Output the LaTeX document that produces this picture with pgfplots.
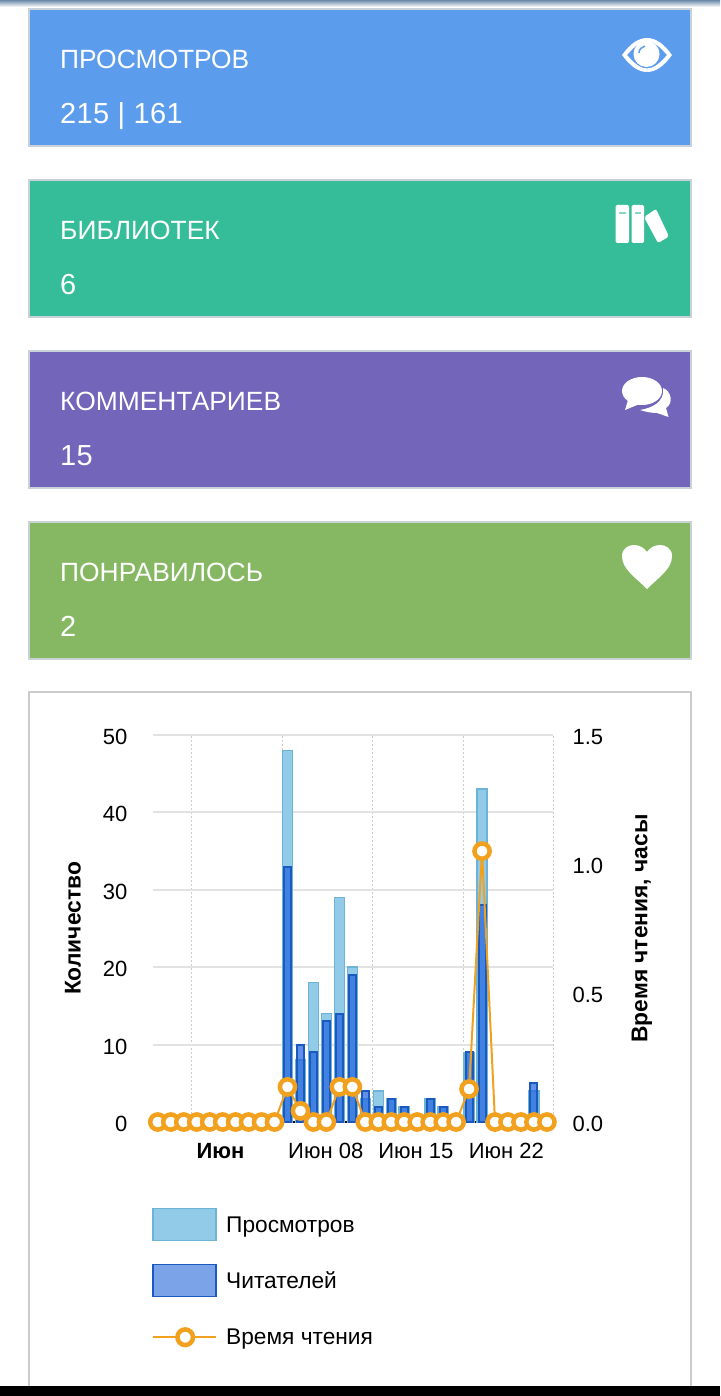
\documentclass[border=0pt]{standalone}
\usepackage{pgfplots}
\pgfplotsset{compat=1.18}
\usepackage{fontspec}
\setmainfont{Liberation Sans}
\definecolor{c1}{HTML}{5C9CED}
\definecolor{c2}{HTML}{35BC98}
\definecolor{c3}{HTML}{7265BA}
\definecolor{c4}{HTML}{86B863}
\definecolor{cb}{HTML}{C8D2D8}
\definecolor{pb}{HTML}{CCCCCC}
\definecolor{vf}{HTML}{92CBE8}
\definecolor{vd}{HTML}{6DB3D8}
\definecolor{rf}{HTML}{7BA3E8}
\definecolor{rb}{HTML}{1F62E0}
\definecolor{rd}{HTML}{1A59BE}
\definecolor{tl}{HTML}{F2A11F}
\definecolor{gr}{HTML}{E2E2E2}
\definecolor{st}{HTML}{6A89A8}
\pgfplotstableread{
i v r t
0 0 0 0
1 0 0 0
2 0 0 0
3 0 0 0
4 0 0 0
5 0 0 0
6 0 0 0
7 0 0 0
8 0 0 0
9 0 0 0
10 48 33 0.136
11 8 10 0.043
12 18 9 0
13 14 13 0
14 29 14 0.136
15 20 19 0.136
16 3 4 0
17 4 2 0
18 3 3 0
19 2 2 0
20 0 0 0
21 3 3 0
22 2 2 0
23 0 0 0
24 9 9 0.128
25 43 28 1.05
26 0 0 0
27 0 0 0
28 0 0 0
29 4 5 0
30 0 0 0
}\data
\newcommand{\card}[4]{%
  \fill[#1,draw=cb,line width=2pt] (29pt,-#2 pt) rectangle (691pt,-#2 pt-137.5pt);
  \node[anchor=base west,text=white,font=\fontsize{26.4}{26.4}\selectfont,inner sep=0pt] at (60pt,-#2 pt-59.8pt) {#3};
  \node[anchor=base west,text=white,font=\fontsize{29}{29}\selectfont,inner sep=0pt] at (60pt,-#2 pt-114.4pt) {\addfontfeature{LetterSpace=1.2}#4};
}
\begin{document}
\begin{tikzpicture}
\useasboundingbox (0,0) rectangle (720pt,-1396pt);
\fill[white] (0,0) rectangle (720pt,-1396pt);
\fill[top color=st,bottom color=white] (0,0) rectangle (720pt,-7pt);
\card{c1}{8.9}{ПРОСМОТРОВ}{215 | 161}
\card{c2}{179.9}{БИБЛИОТЕК}{6}
\card{c3}{350.9}{КОММЕНТАРИЕВ}{15}
\card{c4}{521.9}{ПОНРАВИЛОСЬ}{2}
% panel
\draw[pb,line width=2pt] (29pt,-1396pt) -- (29pt,-692pt) -- (691pt,-692pt) -- (691pt,-1396pt);
\fill[black] (0,-1386pt) rectangle (720pt,-1396pt);
% icons
\begin{scope}[x=1pt,y=-1pt,white]
 % eye
 \fill[even odd rule] (622,55) .. controls (630,44) and (638,38) .. (647,38) .. controls (656,38) and (664,44) .. (672,55) .. controls (664,66) and (656,72) .. (647,72) .. controls (638,72) and (630,66) .. (622,55) --
   (627,55) .. controls (634,63) and (640,68.5) .. (647,68.5) .. controls (654,68.5) and (660,63) .. (667,55) .. controls (660,47) and (654,41.5) .. (647,41.5) .. controls (640,41.5) and (634,47) .. (627,55) -- cycle;
 \fill (646.5,54) circle (13);
 \draw[c1,line width=1.5pt] (639,53) .. controls (639,49) and (642,47) .. (645,46);
 % books
 \fill[rounded corners=1.5] (615.5,205) rectangle (629,243);
 \fill[rounded corners=1.5] (631.5,205) rectangle (644,243);
 \fill[rounded corners=2] (644,217) -- (656,209) -- (669,236.5) -- (658,243) -- cycle;
 \fill[c2!60!white] (618.5,212) rectangle (625.5,214.5);
 \fill[c2!60!white] (634.5,212) rectangle (641,214.5);
 % comments
 \fill (642,391) ellipse (20 and 14);
 \fill (628,400) -- (625,410) -- (642,403) -- cycle;
 \fill (663,388) .. controls (671,391) and (674,403) .. (666,408) -- (668.5,417) -- (657,413) .. controls (652,413) and (646,412) .. (640,410) .. controls (652,408) and (665,402) .. (663,388) -- cycle;
 % heart
 \fill (647,589) .. controls (635,577) and (622,569) .. (622,556) .. controls (622,548) and (629,545) .. (634,545) .. controls (640,545) and (644,548) .. (647,552) .. controls (650,548) and (654,545) .. (660,545) .. controls (665,545) and (672,548) .. (672,556) .. controls (672,569) and (659,577) .. (647,589) -- cycle;
\end{scope}
% chart
\pgfplotsset{base/.style={
  at={(153pt,-1122pt)},anchor=south west,scale only axis,width=400pt,height=387pt,
  xmin=-0.37,xmax=30.47,clip=false,
  tick label style={font=\fontsize{22}{22}\selectfont},
  /pgf/number format/assume math mode=true,
}}
\begin{axis}[base,
  ymin=0,ymax=50,ytick={0,10,20,30,40,50},
  axis y line*=left,axis x line*=bottom,
  y axis line style={draw=none},
  x axis line style={draw=black,line width=1.2pt},
  major tick length=0pt,
  ymajorgrids,grid style={gr,line width=2pt},
  xtick={2.56,9.63,16.57,23.55,30.47},
  xticklabels={\textbf{Июн},Июн 08,Июн 15,Июн 22,},
  xticklabel style={anchor=base west,xshift=2pt,yshift=-36.5pt},
  yticklabel style={xshift=-22pt,yshift=-2pt},
  xmajorgrids,
  x grid style={gray!40,dotted,line width=1pt},
  ylabel={Количество},
  every axis y label/.style={at={(rel axis cs:0,0.5)},xshift=-80pt,rotate=90,anchor=center,font=\bfseries\fontsize{22.8}{22.8}\selectfont},
  ybar=0pt,bar shift=0pt,
  legend style={at={(0,0)},anchor=north west,xshift=-1pt,yshift=-85.5pt,draw=none,fill=none,
     font=\fontsize{22.7}{22.7}\selectfont,row sep=22pt,inner sep=0pt,
     nodes={inner sep=0pt,anchor=west}},
  legend cell align=left,
]
\addplot[bar width=10pt,fill=vf,draw=vd,line width=1.5pt,forget plot] table[x=i,y=v]{\data};
\addplot[bar width=7pt,fill=rb,fill opacity=0.7,draw=rd,draw opacity=1,line width=2pt,forget plot] table[x=i,y=r]{\data};
\addlegendimage{legend image code/.code={\path[draw=none,fill=none] (0pt,-17pt) rectangle (73pt,17pt);\draw[fill=vf,draw=vd,line width=1.5pt] (0pt,-15.5pt) rectangle (63pt,16.5pt);}}
\addlegendentry{Просмотров}
\addlegendimage{legend image code/.code={\path[draw=none,fill=none] (0pt,-17pt) rectangle (73pt,17pt);\draw[fill=rf,draw=rd,line width=1.5pt] (0pt,-15.5pt) rectangle (63pt,16.5pt);}}
\addlegendentry{Читателей}
\addlegendimage{legend image code/.code={\path[draw=none,fill=none] (0pt,-17pt) rectangle (73pt,17pt);\draw[tl,line width=2pt] (0pt,0pt) -- (63pt,0pt);\draw[tl,line width=4.5pt,fill=white] (32pt,0pt) circle (7.8pt);}}
\addlegendentry{Время чтения}
\end{axis}
\begin{axis}[base,
  ymin=0,ymax=1.5,ytick={0,0.5,1,1.5},
  yticklabels={0.0,0.5,1.0,1.5},
  axis y line*=right,axis x line=none,
  y axis line style={draw=none},
  major tick length=0pt,
  yticklabel style={xshift=16pt,yshift=-2pt},
  ylabel={Время чтения, часы},
  every axis y label/.style={at={(rel axis cs:1,0.5)},xshift=89pt,rotate=90,anchor=center,font=\bfseries\fontsize{22.8}{22.8}\selectfont},
]
\addplot[tl,line width=2pt,mark=*,mark size=7.6pt,mark options={draw=tl,fill=white,line width=4.5pt}] table[x=i,y=t]{\data};
\end{axis}
\end{tikzpicture}
\end{document}
